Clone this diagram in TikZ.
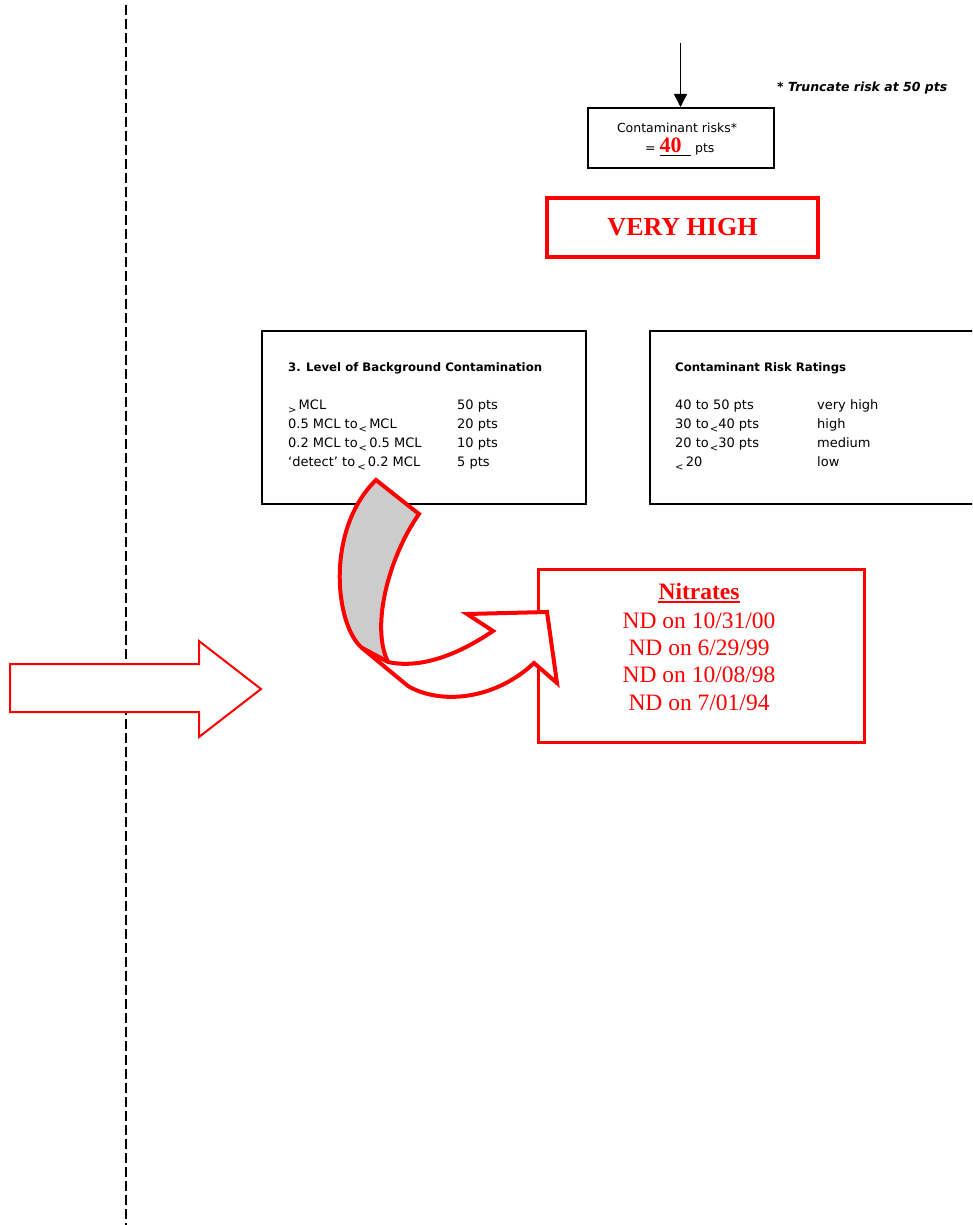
\documentclass[tikz,border=0pt]{standalone}
\usepackage{fontspec}
\setmainfont{Liberation Serif}
\newfontfamily\gva{DejaVu Sans}
\usetikzlibrary{arrows.meta,positioning}

\newcommand{\lowlt}{\raisebox{-3.5pt}{\fontsize{10}{10}\selectfont<}}
\newcommand{\lowgt}{\raisebox{-3.5pt}{\fontsize{10}{10}\selectfont>}}

\tikzset{
	rowtext/.style={anchor=base west, inner sep=0pt, font=\gva\fontsize{13}{15}\selectfont},
	headtext/.style={anchor=base west, inner sep=0pt, font=\gva\bfseries\fontsize{11.7}{14}\selectfont},
	datetext/.style={anchor=base, inner sep=0pt, text=red, font=\fontsize{23.5}{27}\selectfont},
	blackbox/.style={draw, line width=2pt, anchor=north west},
	redbox/.style={draw=red, line width=4pt},
}

\begin{document}
\begin{tikzpicture}[x=1pt,y=-1pt]
	\clip (0,0) rectangle (972,1225);

	%Draws the dashed divider on the left
	\draw[line width=2pt, dash pattern=on 10pt off 4pt] (126,5) -- (126,1225);

	%Draws the block arrow across the divider
	\filldraw[draw=red, fill=white, line width=2pt] (10,664) -- (199,664) -- (199,641) -- (261,689) -- (199,737) -- (199,712) -- (10,712) -- cycle;

	%Draws the contaminant risk total
	\node[draw, line width=2pt, minimum width=186, minimum height=60] (risk) at (680.5,138) {};
	\coordinate (feed) at (680.5,43);
	\draw[-{Triangle[length=13pt,width=13pt]}, line width=1.5pt] (feed) -- (risk.north);
	\node[anchor=base, inner sep=0pt, font=\gva\fontsize{12.5}{15}\selectfont] (risklbl) at (677,133) {Contaminant risks*};
	\node[anchor=base west, inner sep=0pt, font=\gva\fontsize{12.5}{15}\selectfont] (riskval) at (645,153)
		{= \rlap{\rule[-3pt]{31pt}{1pt}}\textcolor{red}{\rmfamily\bfseries\fontsize{22}{22}\selectfont 40}\hspace{9.5pt} pts};
	\node[anchor=base west, inner sep=0pt, font=\gva\bfseries\itshape\fontsize{12.5}{14}\selectfont] (note) at (777,92) {* Truncate risk at 50 pts};

	%Draws the rating
	\node[redbox, minimum width=271, minimum height=59, text=red, font=\fontsize{26}{26}\selectfont\bfseries] (rating) at (682.5,227.5) {VERY HIGH};

	%Draws the background contamination table
	\node[blackbox, minimum width=324, minimum height=173] (bgbox) at (261,330) {};
	\node[headtext] (bghead) at (288,371) {3. Level of Background Contamination};
	\foreach \lvl/\pts [count=\i from 0] in {{\lowgt\,MCL}/50 pts, {0.5 MCL to\hspace{1pt}\lowlt\,MCL}/20 pts, {0.2 MCL to\hspace{1pt}\lowlt\,0.5 MCL}/10 pts, {‘detect’ to\,\lowlt\,0.2 MCL}/5 pts}{
		\node[rowtext] (bgl\i) at (288,409.5+19*\i) {\lvl};
		\node[rowtext] (bgp\i) at (457,409.5+19*\i) {\pts};
	}

	%Draws the risk rating table
	\node[blackbox, minimum width=340, minimum height=173] (ratebox) at (649,330) {};
	\node[headtext] (ratehead) at (675,371) {Contaminant Risk Ratings};
	\foreach \pts/\lvl [count=\i from 0] in {{40 to 50 pts}/very high, {30 to\hspace{1pt}\lowlt 40 pts}/high, {20 to\hspace{1pt}\lowlt 30 pts}/medium, {\lowlt\,20}/low}{
		\node[rowtext] (ratel\i) at (675,409.5+19*\i) {\pts};
		\node[rowtext] (ratep\i) at (817,409.5+19*\i) {\lvl};
	}

	%Draws the nitrate results
	\node[draw=red, line width=3pt, anchor=north west, minimum width=326, minimum height=173] (nitbox) at (536.5,568) {};
	\node[datetext, font=\fontsize{23.5}{27}\selectfont\bfseries] (nit) at (699,599) {Nitrates};
	\draw[red, line width=2pt] ([yshift=-3pt]nit.base west) -- ([yshift=-3pt]nit.base east);
	\foreach \dt [count=\i from 0] in {{10/31/00}, {6/29/99}, {10/08/98}, {7/01/94}}
		\node[datetext] (nd\i) at (699,628.3+27.3*\i) {ND on \dt};

	%Draws the curved arrow from the table to the results
	\filldraw[draw=red, fill=gray!40, line width=4pt] (376,480) -- (419,514) .. controls (390,555) and (370,625) .. (388,662) -- (362,648) .. controls (335,625) and (325,530) .. cycle;
	\filldraw[draw=red, fill=white, line width=4pt] (388,662) .. controls (425,670) and (465,650) .. (493,631) -- (467,614) -- (547,612) -- (557,683) -- (534,663) .. controls (495,700) and (440,705) .. (408,686) -- (362,648) -- cycle;
\end{tikzpicture}
\end{document}
